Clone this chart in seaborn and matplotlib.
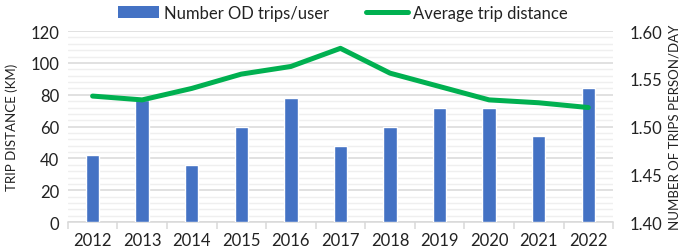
import matplotlib
matplotlib.use("Agg")
import matplotlib.pyplot as plt
import seaborn as sns
import pandas as pd
import numpy as np
from matplotlib.ticker import MultipleLocator, FixedLocator
from matplotlib.lines import Line2D
from matplotlib.patches import Patch

years = ["2012", "2013", "2014", "2015", "2016", "2017", "2018", "2019", "2020", "2021", "2022"]
od_trips = [42, 77, 36, 60, 78, 48, 60, 72, 72, 54, 84]
avg_distance = [1.532, 1.528, 1.540, 1.555, 1.563, 1.582, 1.556, 1.542, 1.528, 1.525, 1.520]

sns.set_theme(style="white")
plt.rcParams['font.family'] = ['Lato', 'DejaVu Sans']

bar_color = "#4472C4"
line_color = "#00B050"

fig = plt.figure(figsize=(6.85, 2.53), dpi=100)
ax = fig.add_axes([0.099, 0.118, 0.796, 0.755])

df = pd.DataFrame({"year": years, "trips": od_trips, "dist": avg_distance})
sns.barplot(data=df, x="year", y="trips", color=bar_color, width=0.27, ax=ax,
            saturation=1, zorder=3)
ax.set_xlim(-0.5, len(years) - 0.5)
ax.set_ylim(0, 120)
ax.yaxis.set_major_locator(MultipleLocator(20))
ax.yaxis.set_minor_locator(MultipleLocator(4))
ax.grid(axis="y", which="major", color="#D9D9D9", linewidth=1.1, zorder=0)
ax.grid(axis="y", which="minor", color="#EFEFEF", linewidth=1.0, zorder=0)
ax.set_axisbelow(True)
for s in ["left", "right", "top"]:
    ax.spines[s].set_visible(False)
ax.spines["bottom"].set_color("#D9D9D9")
ax.spines["bottom"].set_linewidth(1.1)
ax.xaxis.set_minor_locator(FixedLocator(np.arange(-0.5, len(years), 1.0)))
ax.tick_params(axis="x", which="major", length=0, labelsize=12, pad=7, colors="#222222")
ax.tick_params(axis="x", which="minor", length=5, color="#D9D9D9", width=1.1, bottom=True)
ax.tick_params(axis="y", which="both", length=0, labelsize=12, pad=6, colors="#222222")
ax.set_xlabel("")
ax.set_ylabel("TRIP DISTANCE (KM)", fontsize=9.5, color="#222222", labelpad=9)

ax2 = ax.twinx()
sns.lineplot(data=df, x="year", y="dist", color=line_color, linewidth=3.6, ax=ax2, zorder=4)
ax2.set_ylim(1.40, 1.60)
ax2.yaxis.set_major_locator(MultipleLocator(0.05))
ax2.yaxis.set_major_formatter(matplotlib.ticker.FormatStrFormatter("%.2f"))
ax2.set_xlim(-0.5, len(years) - 0.5)
for s in ["left", "right", "top", "bottom"]:
    ax2.spines[s].set_visible(False)
ax2.tick_params(axis="y", length=0, labelsize=12, pad=12, colors="#222222")
ax2.set_ylabel("NUMBER OF TRIPS PERSON/DAY", fontsize=9.5, color="#222222", labelpad=4)
ax2.grid(False)

handles = [Patch(facecolor=bar_color, edgecolor="none"),
           Line2D([0], [0], color=line_color, linewidth=3.6)]
fig.legend(handles, ["Number OD trips/user", "Average trip distance"],
           loc="upper center", bbox_to_anchor=(0.5, 1.035), ncol=2, frameon=False,
           fontsize=12, handlelength=2.5, handleheight=0.7, columnspacing=2.2,
           handletextpad=0.3, labelcolor="#222222")

fig.savefig("out.png", dpi=100)
